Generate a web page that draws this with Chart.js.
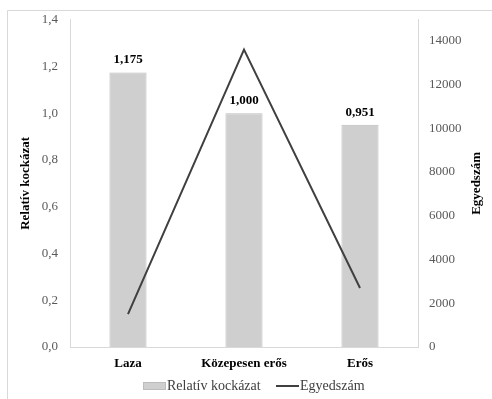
<!DOCTYPE html>
<html>
<head>
<meta charset="utf-8">
<script src="https://cdn.jsdelivr.net/npm/chart.js@4.4.1/dist/chart.umd.min.js"></script>
<style>
  html, body { margin: 0; padding: 0; background: #fff; }
  #wrap { position: relative; width: 492px; height: 399px; }
</style>
</head>
<body>
<div id="wrap"><canvas id="chart" width="492" height="399"></canvas></div>
<script>
// chart data
const categories = ['Laza', 'Közepesen erős', 'Erős'];
const relRisk = [1.175, 1.000, 0.951];
const specimens = [1500, 13600, 2700];
const riskTicks = [0, 0.2, 0.4, 0.6, 0.8, 1.0, 1.2, 1.4];
const countTicks = [0, 2000, 4000, 6000, 8000, 10000, 12000, 14000];

const SERIF = "'Liberation Serif', 'Times New Roman', serif";
Chart.defaults.font.family = SERIF;
Chart.defaults.font.size = 13;

const BAR_FILL = '#d0cfd0', BAR_EDGE = '#bdbdbd', LINE_COL = '#404040';
const fmt = v => v.toFixed(1).replace('.', ',');

// white bg + the cropped outer frame
const framePlugin = {
    id: 'frame',
    beforeDraw(chart) {
        const c = chart.ctx;
        c.save();
        c.fillStyle = '#fff';
        c.fillRect(0, 0, chart.width, chart.height);
        c.strokeStyle = '#d9d9d9';
        c.lineWidth = 1;
        c.beginPath();
        c.moveTo(7.5, chart.height);
        c.lineTo(7.5, 10.5);
        c.lineTo(chart.width, 10.5);
        c.stroke();
        c.restore();
    }
};

// value labels above bars, right axis title (bottom-to-top), excel-like legend
const extras = {
    id: 'extras',
    afterDatasetsDraw(chart) {
        const c = chart.ctx;
        const idx = chart.data.datasets.findIndex(d => d.type === 'bar');
        const meta = chart.getDatasetMeta(idx);
        c.save();
        c.font = "bold 13px " + SERIF;
        c.fillStyle = '#000';
        c.textAlign = 'center';
        c.textBaseline = 'bottom';
        meta.data.forEach((bar, i) => {
            c.fillText(relRisk[i].toFixed(3).replace('.', ','), bar.x, bar.y - 6);
        });

        // Egyedszám title
        const area = chart.chartArea;
        c.save();
        c.translate(477, (area.top + area.bottom) / 2);
        c.rotate(-Math.PI / 2);
        c.textBaseline = 'middle';
        c.fillText('Egyedszám', 0, 0);
        c.restore();

        // legend
        const ly = 386;
        c.font = "14px " + SERIF;
        c.textAlign = 'left';
        c.textBaseline = 'middle';
        c.fillStyle = BAR_FILL;
        c.fillRect(143, ly - 4, 23, 8);
        c.strokeStyle = BAR_EDGE;
        c.lineWidth = 1;
        c.strokeRect(143.5, ly - 3.5, 22, 7);
        c.fillStyle = LINE_COL;
        c.fillText('Relatív kockázat', 167, ly);
        c.strokeStyle = LINE_COL;
        c.lineWidth = 2;
        c.beginPath();
        c.moveTo(276, ly);
        c.lineTo(299, ly);
        c.stroke();
        c.fillText('Egyedszám', 300, ly);
        c.restore();
    }
};

new Chart(document.getElementById('chart'), {
    data: {
        labels: categories,
        datasets: [
            {
                type: 'line',
                label: 'Egyedszám',
                data: specimens,
                yAxisID: 'yCount',
                borderColor: LINE_COL,
                borderWidth: 2,
                pointRadius: 0,
                tension: 0,
                order: 0
            },
            {
                type: 'bar',
                label: 'Relatív kockázat',
                data: relRisk,
                yAxisID: 'yRisk',
                backgroundColor: BAR_FILL,
                borderColor: BAR_EDGE,
                borderWidth: 1,
                categoryPercentage: 1,
                barPercentage: 0.32,
                order: 1
            }
        ]
    },
    options: {
        responsive: false,
        animation: false,
        layout: { padding: { top: 18, left: 0, right: 0, bottom: 22 } },
        scales: {
            x: {
                grid: { display: false, drawTicks: false },
                border: { display: true, color: '#d9d9d9' },
                ticks: { color: '#000', font: { weight: 'bold', size: 13 }, padding: 9 },
                afterFit: s => { s.height = 30; }
            },
            yRisk: {
                position: 'left',
                min: 0, max: 1.4,
                grid: { display: false, drawTicks: false },
                border: { display: true, color: '#d9d9d9' },
                afterBuildTicks: s => { s.ticks = riskTicks.map(v => ({ value: v })); },
                ticks: { color: '#595959', padding: 12, callback: v => fmt(v) },
                title: { display: true, text: 'Relatív kockázat', color: '#000',
                         font: { weight: 'bold', size: 13 }, padding: { top: 18, bottom: 0 } },
                afterFit: s => { s.width = 70; }
            },
            yCount: {
                position: 'right',
                min: 0, max: 14960,
                grid: { display: false, drawTicks: false },
                border: { display: true, color: '#d9d9d9' },
                afterBuildTicks: s => { s.ticks = countTicks.map(v => ({ value: v })); },
                ticks: { color: '#595959', padding: 11, callback: v => String(v) },
                afterFit: s => { s.width = 74; }
            }
        },
        plugins: {
            tooltip: { enabled: false },
            legend: { display: false }
        }
    },
    plugins: [framePlugin, extras]
});
</script>
</body>
</html>
